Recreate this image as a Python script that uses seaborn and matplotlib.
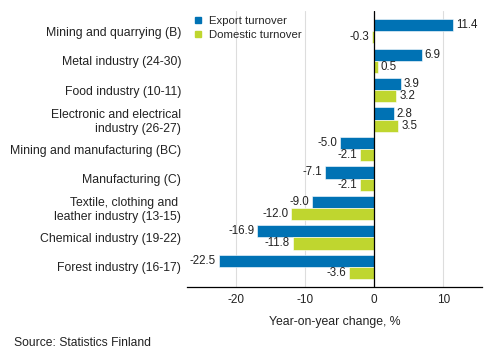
import matplotlib
matplotlib.use("Agg")
import matplotlib.pyplot as plt
import pandas as pd
import seaborn as sns
from matplotlib.lines import Line2D

industries = [
    "Mining and quarrying (B)",
    "Metal industry (24-30)",
    "Food industry (10-11)",
    "Electronic and electrical\nindustry (26-27)",
    "Mining and manufacturing (BC)",
    "Manufacturing (C)",
    "Textile, clothing and \nleather industry (13-15)",
    "Chemical industry (19-22)",
    "Forest industry (16-17)",
]
export_turnover = [11.4, 6.9, 3.9, 2.8, -5.0, -7.1, -9.0, -16.9, -22.5]
domestic_turnover = [-0.3, 0.5, 3.2, 3.5, -2.1, -2.1, -12.0, -11.8, -3.6]
series = ["Export turnover", "Domestic turnover"]
colors = ["#0072b4", "#bfd62f"]

df = pd.DataFrame({
    "industry": industries * 2,
    "value": export_turnover + domestic_turnover,
    "series": [series[0]] * len(industries) + [series[1]] * len(industries),
})

sns.set_style("white")
plt.rcParams["font.family"] = ["Liberation Sans", "DejaVu Sans"]
plt.rcParams["font.size"] = 8
plt.rcParams["axes.unicode_minus"] = False

fig = plt.figure(figsize=(4.93, 3.6), dpi=100)
ax = fig.add_axes([0.379, 0.203, 0.599, 0.766])

sns.barplot(data=df, x="value", y="industry", hue="series", orient="h",
            palette=colors, order=industries, hue_order=series, saturation=1,
            width=0.82, edgecolor="white", linewidth=0.4, legend=False, ax=ax)

for cont in ax.containers:
    ax.bar_label(cont, fmt="%.1f", padding=2, fontsize=8.3, color="#222222")

ax.set_xlim(-27.1, 15.6)
ax.set_ylim(len(industries) - 1 + 0.68, -0.68)
ax.set_xticks([-20, -10, 0, 10])
ax.xaxis.grid(True, color="#dddddd", linewidth=0.8)
ax.set_axisbelow(True)
ax.axvline(0, color="black", linewidth=0.9)
for side in ["left", "right", "top"]:
    ax.spines[side].set_visible(False)
ax.spines["bottom"].set_color("black")
ax.spines["bottom"].set_linewidth(0.9)
ax.tick_params(axis="both", length=0, colors="#222222")
ax.tick_params(axis="x", labelsize=8.5, pad=5)
ax.tick_params(axis="y", labelsize=8.8, pad=4)
ax.set_ylabel("")
ax.set_xlabel("Year-on-year change, %", fontsize=8.8, color="#222222", labelpad=7)

handles = [Line2D([0], [0], marker="s", linestyle="", markersize=5,
                  markerfacecolor=c, markeredgecolor=c) for c in colors]
ax.legend(handles, series, loc="upper left", bbox_to_anchor=(0.392, 1 - 16 / 360),
          bbox_transform=fig.transFigure, frameon=False, fontsize=8.2,
          handlelength=0.8, handletextpad=0.6, labelspacing=0.35,
          borderaxespad=0, borderpad=0)

fig.text(0.028, 0.04, "Source: Statistics Finland", fontsize=8.7, color="#222222")

fig.savefig("out.png", dpi=100)
